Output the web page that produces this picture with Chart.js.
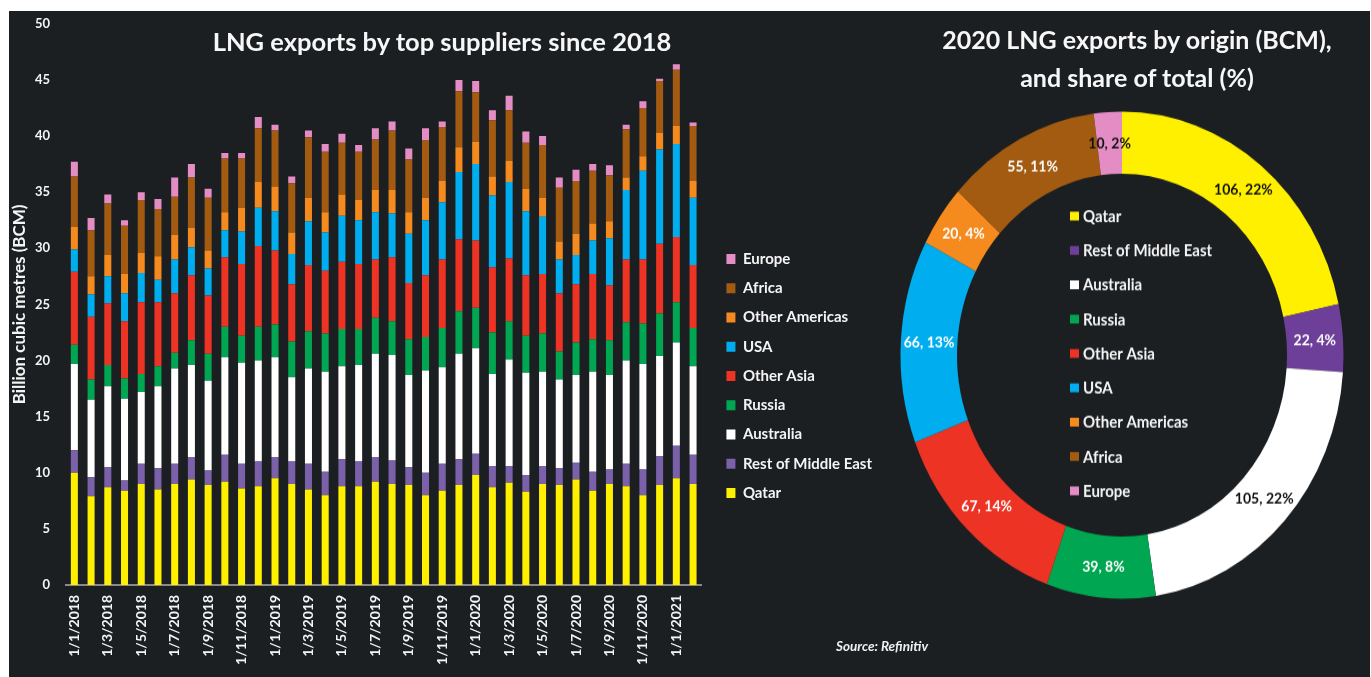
<!DOCTYPE html>
<html>
<head>
<meta charset="utf-8">
<script src="https://cdn.jsdelivr.net/npm/chart.js@4.4.1/dist/chart.umd.min.js"></script>
<style>
  html, body { margin:0; padding:0; background:#ffffff; width:1371px; height:677px; overflow:hidden; }
  #bg { position:absolute; left:9px; top:11px; width:1361px; height:666px; background:#1c1f22; }
  #bar { position:absolute; left:0; top:0; }
  #dwrap { position:absolute; left:0; top:0; width:1371px; height:616px; transform:scaleY(1.0995); transform-origin:0 0; }
  #dough { position:absolute; left:892px; top:93px; }
  .t { position:absolute; color:#f7f7f7; font-family:Lato, 'Open Sans', sans-serif; font-weight:bold; white-space:nowrap; text-align:center; }
  #t1 { left:192px; width:500px; top:24px; font-size:25.5px; line-height:34px; }
  #t2 { left:887px; width:500px; top:20px; font-size:25px; line-height:38px; }
  #src { position:absolute; left:836px; top:638px; color:#f0f0f0; font-family:Lato, sans-serif; font-weight:bold; font-style:italic; font-size:13.5px; white-space:nowrap; }
</style>
</head>
<body>
<div id="bg"></div>
<canvas id="bar" width="890" height="677"></canvas>
<div id="dwrap"><canvas id="dough" width="460" height="460"></canvas></div>
<div class="t" id="t1">LNG exports by top suppliers since 2018</div>
<div class="t" id="t2">2020 LNG exports by origin (BCM),<br>and share of total (%)</div>
<div id="src">Source: Refinitiv</div>
<script>
// ---------- Data: monthly LNG exports (BCM) ----------
const months = [
  "1/1/2018","1/2/2018","1/3/2018","1/4/2018","1/5/2018","1/6/2018","1/7/2018","1/8/2018","1/9/2018","1/10/2018","1/11/2018","1/12/2018",
  "1/1/2019","1/2/2019","1/3/2019","1/4/2019","1/5/2019","1/6/2019","1/7/2019","1/8/2019","1/9/2019","1/10/2019","1/11/2019","1/12/2019",
  "1/1/2020","1/2/2020","1/3/2020","1/4/2020","1/5/2020","1/6/2020","1/7/2020","1/8/2020","1/9/2020","1/10/2020","1/11/2020","1/12/2020",
  "1/1/2021","1/2/2021"
];
const qatar         = [10.0,7.9,8.7,8.4,9.0,8.5,9.0,9.4,8.9,9.2,8.6,8.8,9.5,9.0,8.5,8.0,8.8,8.8,9.2,9.0,8.9,8.0,8.4,8.9,9.8,8.7,9.1,8.3,9.0,8.9,9.4,8.4,9.0,8.8,8.0,8.9,9.5,9.0];
const restMidEast   = [2.0,1.7,1.8,0.9,1.8,1.9,1.8,2.0,1.3,2.4,2.2,2.2,1.9,2.0,2.3,2.1,2.4,2.2,2.2,2.1,1.6,2.0,2.4,2.3,1.9,1.9,1.5,1.5,1.6,1.5,1.5,1.7,1.3,2.0,2.3,2.6,2.9,2.6];
const australia     = [7.7,6.9,7.2,7.3,6.4,7.3,8.5,8.2,8.0,8.7,9.0,9.0,8.9,7.5,8.5,8.9,8.3,8.6,9.2,9.4,8.2,9.1,8.6,9.4,9.4,8.2,9.5,9.1,8.4,7.9,7.8,8.9,8.4,9.2,9.4,8.9,9.2,7.9];
const russia        = [1.7,1.8,1.9,1.8,1.6,1.8,1.4,2.2,2.4,2.7,2.4,3.0,2.9,3.2,3.3,3.4,3.3,3.2,3.2,3.0,3.2,3.0,3.5,3.8,3.6,3.7,3.4,3.3,3.4,2.5,2.9,2.9,3.1,3.4,3.6,3.8,3.6,3.4];
const otherAsia     = [6.5,5.6,5.5,5.1,6.4,5.7,5.3,5.8,5.2,6.2,6.4,7.2,6.6,5.1,5.9,5.6,6.0,5.8,5.2,5.7,5.0,5.5,6.1,6.4,6.0,5.8,5.6,5.4,5.3,5.2,5.2,5.8,4.9,5.6,5.7,6.2,5.8,5.6];
const usa           = [2.0,2.0,2.4,2.5,2.6,2.0,3.0,2.5,2.4,2.4,2.9,3.4,3.5,2.7,3.9,3.4,4.1,3.9,4.2,3.9,4.4,4.9,5.1,6.0,6.8,6.4,6.8,5.7,5.1,3.0,2.6,3.0,4.2,6.2,7.9,8.4,8.3,6.0];
const otherAmericas = [2.0,1.6,1.9,1.7,1.8,2.1,2.2,1.7,1.6,1.6,2.1,2.3,2.2,1.9,2.1,1.8,1.9,1.8,2.0,2.1,1.9,2.0,1.9,2.2,2.0,1.7,1.9,2.0,1.7,1.6,1.9,1.5,1.5,1.1,1.3,1.5,1.6,1.5];
const africa        = [4.5,4.1,4.6,4.3,4.7,4.2,3.4,4.5,4.7,4.8,4.4,4.8,5.0,4.4,5.4,5.4,4.6,4.3,4.5,5.3,4.7,5.1,4.8,5.0,4.4,5.0,4.5,4.1,4.7,4.8,4.7,4.7,4.1,4.3,4.3,4.6,5.0,4.9];
const europe        = [1.3,1.1,0.8,0.5,0.7,0.9,1.7,1.2,0.8,0.5,0.5,1.0,0.5,0.6,0.6,0.7,0.8,0.6,1.0,0.8,1.0,1.1,0.5,1.0,1.0,0.9,1.3,1.0,0.8,0.9,1.0,0.6,0.9,0.4,0.6,0.2,0.5,0.3];
const yTicks = [0,5,10,15,20,25,30,35,40,45,50];

// ---------- Data: 2020 totals ----------
const origins2020 = ["Qatar","Rest of Middle East","Australia","Russia","Other Asia","USA","Other Americas","Africa","Europe"];
const bcm2020     = [106,22,105,39,67,66,20,55,10];
const share2020   = [22,4,22,8,14,13,4,11,2];

// ---------- Styles ----------
const FONT = "Lato, 'Open Sans', sans-serif";
const TXT = "#f4f4f4";
const barColors = {
  "Qatar":"#fff000","Rest of Middle East":"#7b61a9","Australia":"#ffffff","Russia":"#00a651",
  "Other Asia":"#ed3323","USA":"#00aeef","Other Americas":"#f58a1f","Africa":"#a35b12","Europe":"#e48dc4"
};
const ringColors = ["#fff000","#6e3f99","#ffffff","#00a651","#ed3323","#00aeef","#f58a1f","#a35b12","#e48dc4"];
const ringLabelColors = ["#111","#fff","#111","#fff","#fff","#fff","#fff","#fff","#111"];

const seriesList = [
  ["Qatar", qatar], ["Rest of Middle East", restMidEast], ["Australia", australia], ["Russia", russia],
  ["Other Asia", otherAsia], ["USA", usa], ["Other Americas", otherAmericas], ["Africa", africa], ["Europe", europe]
];

new Chart(document.getElementById("bar"), {
  type: "bar",
  data: {
    labels: months,
    datasets: seriesList.map(([name, vals]) => ({
      label: name, data: vals, backgroundColor: barColors[name], borderWidth: 0,
      barPercentage: 0.42, categoryPercentage: 1.0
    }))
  },
  options: {
    responsive: false, animation: false, devicePixelRatio: 1,
    layout: { padding: { left: 8, top: 22, right: 8, bottom: 0 } },
    plugins: {
      tooltip: { enabled: false },
      legend: {
        position: "right", align: "start", fullSize: false, reverse: true,
        title: { display: true, text: " ", font: { size: 12 }, padding: { top: 199, bottom: 0 } },
        labels: { color: TXT, font: { family: FONT, weight: "bold", size: 15 }, boxWidth: 9, boxHeight: 10, padding: 14.25 }
      }
    },
    scales: {
      x: {
        stacked: true,
        grid: { display: false, drawTicks: false },
        border: { display: true, color: "#8a8a8a", width: 2 },
        ticks: {
          color: TXT, font: { family: FONT, weight: "bold", size: 14 },
          minRotation: 90, maxRotation: 90, autoSkip: false, padding: 10,
          callback: function(v, i) { return i % 2 === 0 ? months[i] : ""; }
        },
        afterFit: s => { s.height = 92; }
      },
      y: {
        stacked: true, min: 0, max: 50,
        afterBuildTicks: s => { s.ticks = yTicks.map(v => ({ value: v })); },
        grid: { display: false, drawTicks: false },
        border: { display: false },
        ticks: { color: TXT, font: { family: FONT, weight: "bold", size: 13 }, padding: 16 },
        title: { display: true, text: "Billion cubic metres (BCM)", color: TXT,
                 font: { family: FONT, weight: "bold", size: 17 }, padding: { top: 1, bottom: 0 } },
        afterFit: s => { s.width = 58; }
      },
      spacer: {
        position: "right", display: false,
        afterFit: s => { s.width = 10.75; }
      }
    }
  }
});

// ---------- Doughnut ----------
const ringText = {
  id: "ringText",
  afterDatasetsDraw(chart) {
    const ctx = chart.ctx;
    const meta = chart.getDatasetMeta(0);
    ctx.save();
    ctx.textAlign = "center";
    ctx.textBaseline = "middle";
    ctx.font = "bold 14px " + FONT;
    meta.data.forEach((arc, i) => {
      const p = arc.tooltipPosition();
      ctx.fillStyle = ringLabelColors[i];
      ctx.fillText(bcm2020[i] + ", " + share2020[i] + "%", p.x, p.y);
    });
    // legend inside the hole
    ctx.textAlign = "left";
    ctx.font = "bold 15px " + FONT;
    const bx = 178, tx = 191, y0 = 103.5, dy = 31.24;
    origins2020.forEach((name, i) => {
      const y = y0 + dy * i;
      ctx.fillStyle = ringColors[i];
      ctx.fillRect(bx, y - 4, 9, 8);
      ctx.fillStyle = TXT;
      ctx.fillText(name, tx, y + 0.5);
    });
    ctx.restore();
  }
};

new Chart(document.getElementById("dough"), {
  type: "doughnut",
  data: {
    labels: origins2020,
    datasets: [{ data: bcm2020, backgroundColor: ringColors, borderWidth: 0 }]
  },
  options: {
    responsive: false, animation: false, devicePixelRatio: 1,
    radius: 221.5, cutout: "74.5%",
    plugins: { legend: { display: false }, tooltip: { enabled: false } }
  },
  plugins: [ringText]
});
</script>
</body>
</html>
